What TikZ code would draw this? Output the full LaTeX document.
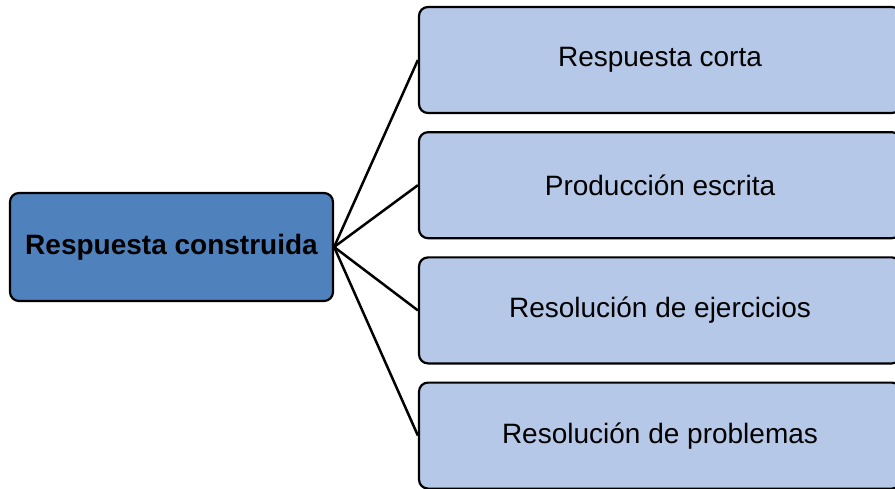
\documentclass[tikz,border=0pt]{standalone}
\usepackage{fontspec}
\setmainfont{Liberation Sans}
\usepackage{xcolor}
\usepackage{tikz}
\usetikzlibrary{positioning}
\definecolor{rootblue}{RGB}{79,129,189}
\definecolor{leafblue}{RGB}{182,200,231}

\begin{document}
\begin{tikzpicture}
  [
    x=1pt, y=-1pt,
    root/.style={rectangle,draw=black,fill=rootblue,line width=2.2pt,rounded corners=9pt,
      minimum width=323pt,minimum height=108pt,font=\fontsize{28}{33}\selectfont\bfseries},
    leaf/.style={rectangle,draw=black,fill=leafblue,line width=2.2pt,rounded corners=9pt,
      minimum width=482pt,minimum height=106pt,font=\fontsize{28}{33}\selectfont},
    link/.style={line width=2.5pt}
  ]
  \useasboundingbox (0,0) rectangle (895,489);
  \node[leaf] (corta) at (660,60) {Respuesta corta};
  \node[leaf] (escrita) [below = 17pt of corta] {Producción escrita};
  \node[leaf] (ejercicios) [below = 17pt of escrita] {Resolución de ejercicios};
  \node[leaf] (problemas) [below = 17pt of ejercicios] {Resolución de problemas};
  \node[root] (construida) at (171.5,247) {Respuesta construida};
  \draw[link] (construida.east) -- (corta.west);
  \draw[link] (construida.east) -- (escrita.west);
  \draw[link] (construida.east) -- (ejercicios.west);
  \draw[link] (construida.east) -- (problemas.west);
\end{tikzpicture}
\end{document}
